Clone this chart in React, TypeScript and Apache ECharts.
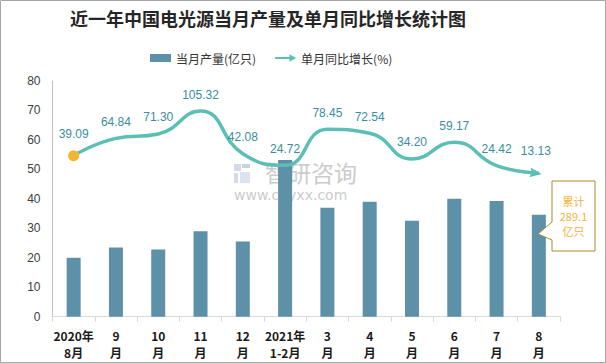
import React, { useEffect, useRef } from "react";
import * as echarts from "echarts";

const categories = ["2020年\n8月", "9\n月", "10\n月", "11\n月", "12\n月", "2021年\n1-2月", "3\n月", "4\n月", "5\n月", "6\n月", "7\n月", "8\n月"];
const output = [20.0, 23.5, 22.8, 29.0, 25.5, 53.2, 37.0, 39.0, 32.6, 40.0, 39.3, 34.6];
const growth = [39.09, 64.84, 71.3, 105.32, 42.08, 24.72, 78.45, 72.54, 34.2, 59.17, 24.42, 13.13];
const yTicks = [0, 10, 20, 30, 40, 50, 60, 70, 80];
const totalText = ["累计", "289.1", "亿只"];

const BAR_COLOR = "#5d91a8";
const LINE_COLOR = "#5cbfb5";
const LABEL_COLOR = "#3a8da0";

export default function App() {
  const ref = useRef<HTMLDivElement>(null);
  useEffect(() => {
    if (!ref.current) return;
    const chart = echarts.init(ref.current, undefined, { renderer: "svg" });
    const lineData = growth.map((v, i) => {
      if (i === 0) {
        return { value: v, symbol: "circle", symbolSize: 11, itemStyle: { color: "#f6b530" } };
      }
      if (i === growth.length - 1) {
        return {
          value: v,
          symbol: "path://M0,0 L12,5 L0,10 L2,5 Z",
          symbolSize: [12, 10],
          symbolOffset: [-3, 0],
          symbolRotate: -8,
          itemStyle: { color: LINE_COLOR },
        };
      }
      return { value: v, symbol: "circle", symbolSize: 1, itemStyle: { color: LINE_COLOR } };
    });
    const totalGraphics = totalText.map((t, i) => ({
      type: "text",
      z: 51,
      x: 573.5,
      y: 201 + i * 15,
      style: {
        text: t,
        fill: "#f2b43c",
        fontSize: 11,
        align: "center",
        verticalAlign: "middle",
        fontFamily: "Noto Sans CJK SC",
      },
    }));
    chart.setOption({
      animation: false,
      backgroundColor: "#ffffff",
      title: {
        text: "近一年中国电光源当月产量及单月同比增长统计图",
        left: 70,
        top: 9,
        padding: 0,
        textStyle: { fontFamily: "Noto Sans CJK SC", fontSize: 18, fontWeight: "bold", color: "#262626" },
      },
      legend: {
        left: 150,
        top: 52,
        padding: 0,
        itemGap: 19,
        itemWidth: 21,
        itemHeight: 8,
        textStyle: { fontFamily: "Noto Sans CJK SC", fontSize: 12, color: "#333" },
        data: [
          { name: "当月产量(亿只)", icon: "rect" },
          { name: "单月同比增长(%)", icon: "path://M0,3 L15,3 L15,0 L22,4 L15,8 L15,5 L0,5 Z" },
        ],
      },
      grid: { left: 52.5, right: 46, top: 81, bottom: 46.3, containLabel: false },
      xAxis: {
        type: "category",
        data: categories,
        axisLine: { lineStyle: { color: "#d9d9d9" } },
        axisTick: { show: true, length: 5, lineStyle: { color: "#d9d9d9" } },
        axisLabel: {
          interval: 0,
          margin: 10,
          color: "#1a1a1a",
          fontWeight: "bold",
          fontSize: 12,
          lineHeight: 17,
          fontFamily: "Noto Sans CJK SC",
        },
      },
      yAxis: [
        {
          type: "value",
          min: yTicks[0],
          max: yTicks[yTicks.length - 1],
          interval: 10,
          axisLine: { show: true, lineStyle: { color: "#bfbfbf" } },
          axisTick: { show: false },
          splitLine: { show: false },
          axisLabel: { color: "#404040", fontSize: 12, margin: 12, fontFamily: "Liberation Sans" },
        },
        {
          type: "value",
          min: -200,
          max: 150,
          show: false,
          splitLine: { show: false },
        },
      ],
      graphic: [
        {
          type: "rect",
          z: 100,
          shape: { x: 0.5, y: 0.5, width: 605, height: 362 },
          style: { fill: "none", stroke: "#a6a6a6", lineWidth: 1 },
        },
        {
          type: "group",
          z: 0,
          children: [
            { type: "rect", shape: { x: 234, y: 164, width: 7, height: 7 }, style: { fill: "#d3dbe8" } },
            { type: "rect", shape: { x: 242, y: 164, width: 8, height: 4 }, style: { fill: "#c9d2e0" } },
            { type: "rect", shape: { x: 234, y: 173, width: 4, height: 10 }, style: { fill: "#d3dbe8" } },
            { type: "rect", shape: { x: 240, y: 172, width: 10, height: 11 }, style: { fill: "#dbe3ee" } },
            {
              type: "text",
              x: 265,
              y: 172,
              style: {
                text: "智研咨询",
                fontSize: 23,
                fill: "#cccccc",
                fontFamily: "Noto Sans CJK SC",
                verticalAlign: "middle",
              },
            },
            {
              type: "text",
              x: 234,
              y: 195,
              style: {
                text: "www.chyxx.com",
                fontSize: 14,
                fill: "#cccccc",
                fontFamily: "DejaVu Sans",
                verticalAlign: "middle",
              },
            },
          ],
        },
        {
          type: "polygon",
          z: 50,
          shape: {
            points: [
              [552, 181],
              [595, 181],
              [595, 251],
              [552, 251],
              [552, 240],
              [538, 234],
              [552, 222],
            ],
          },
          style: { fill: "#ffffff", stroke: "#b0892a", lineWidth: 1 },
        },
        ...totalGraphics,
      ],
      series: [
        {
          name: "当月产量(亿只)",
          type: "bar",
          data: output,
          barWidth: 14,
          z: 2,
          itemStyle: { color: BAR_COLOR },
        },
        {
          name: "单月同比增长(%)",
          type: "line",
          yAxisIndex: 1,
          data: lineData,
          smooth: 0.5,
          z: 3,
          showSymbol: true,
          showAllSymbol: true,
          lineStyle: { color: LINE_COLOR, width: 3.5 },
          itemStyle: { color: LINE_COLOR },
          label: {
            show: true,
            position: "top",
            distance: 10,
            color: LABEL_COLOR,
            fontSize: 12,
            fontFamily: "Liberation Sans",
            formatter: (p: any) => Number(p.value).toFixed(2),
          },
        },
      ],
    });
    return () => chart.dispose();
  }, []);
  return <div ref={ref} style={{ position: "fixed", left: 0, top: 0, width: 606, height: 363 }} />;
}
